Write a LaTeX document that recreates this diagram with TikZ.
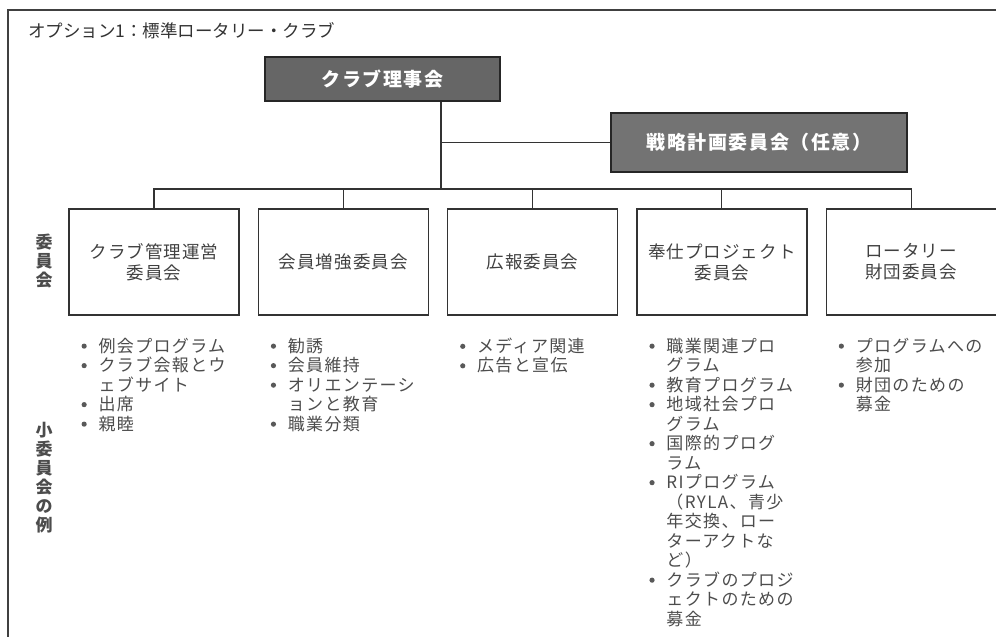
\documentclass[tikz,border=0pt]{standalone}
\usepackage{fontspec}
\setmainfont{Noto Sans CJK JP}
\usetikzlibrary{positioning}

\tikzset{
  frame/.style={draw=black!75, line width=1.5pt},
  conn/.style={draw=black!80, line width=1.1pt},
  board/.style={draw=black!85, line width=1.3pt, fill=black!60, text=white, inner sep=0,
    font=\fontsize{19}{22}\selectfont\bfseries\addfontfeatures{LetterSpace=8}},
  cttee/.style={draw=black!80, line width=1.3pt, minimum width=170, minimum height=106,
    align=center, inner sep=0, text=black!75,
    font=\fontsize{17.5}{21}\selectfont\addfontfeatures{LetterSpace=6}},
  sublist/.style={align=left, inner sep=0, text=black!70,
    font=\fontsize{17}{19.5}\selectfont\addfontfeatures{LetterSpace=8}},
  vlabel/.style={align=center, inner sep=0, font=\fontsize{17}{19}\selectfont\bfseries, text=black!70},
}
\newcommand{\itm}{\makebox[18pt][l]{\hspace*{1pt}\tikz[baseline=-6pt]\fill[black!65] (0,0) circle (2.6pt);}}
\newcommand{\cnt}{\hspace*{18pt}}

\begin{document}
\begin{tikzpicture}[x=1pt,y=-1pt]
  \useasboundingbox (0,0) rectangle (996,637);
  \draw[frame] (996,10) -- (8,10) -- (8,637);

  \node[anchor=west, inner sep=0, text=black!80, font=\fontsize{17.5}{20}\selectfont] (title) at (28,31)
    {オプション1：標準ロータリー・クラブ};

  % top of the chart
  \node[board, minimum width=235, minimum height=44] (board) at (382.5,79) {クラブ理事会};
  \node[board, fill=black!55, minimum width=296, minimum height=59] (strat) at (759,142.5)
    {戦略計画委員会（任意）};

  % committees
  \node[cttee] (c1) at (154,262) {クラブ管理運営\\委員会};
  \node[cttee, right=18pt of c1] (c2) {会員増強委員会};
  \node[cttee, right=18pt of c2] (c3) {広報委員会};
  \node[cttee, right=18pt of c3] (c4) {奉仕プロジェクト\\委員会};
  \node[cttee, right=18pt of c4] (c5) {ロータリー\\財団委員会};

  % connectors
  \coordinate (trunk) at (441,189);
  \draw[conn] (trunk |- board.south) -- (trunk);
  \draw[conn] (trunk |- strat.west) -- (strat.west);
  \draw[conn] (c1.north) |- (trunk) -| (c5.north);
  \foreach \c in {c2,c3,c4}
    \draw[conn] (\c.north) -- (\c.north |- trunk);

  % side labels
  \node[vlabel] (lcttee) at (44,261) {委\\員\\会};
  \node[vlabel] (lsub) at (44,478) {小\\委\\員\\会\\の\\例};

  % subcommittees
  \node[sublist, below right=22pt and 12pt of c1.south west] (s1)
    {\itm 例会プログラム\\ \itm クラブ会報とウ\\ \cnt ェブサイト\\ \itm 出席\\ \itm 親睦};
  \node[sublist, below right=22pt and 12pt of c2.south west] (s2)
    {\itm 勧誘\\ \itm 会員維持\\ \itm オリエンテーシ\\ \cnt ョンと教育\\ \itm 職業分類};
  \node[sublist, below right=22pt and 12pt of c3.south west] (s3)
    {\itm メディア関連\\ \itm 広告と宣伝};
  \node[sublist, below right=22pt and 12pt of c4.south west] (s4)
    {\itm 職業関連プロ\\ \cnt グラム\\ \itm 教育プログラム\\ \itm 地域社会プロ\\ \cnt グラム\\
     \itm 国際的プログ\\ \cnt ラム\\ \itm RIプログラム\\ \cnt （RYLA、青少\\ \cnt 年交換、ロー\\
     \cnt ターアクトな\\ \cnt ど）\\ \itm クラブのプロジ\\ \cnt ェクトのための\\ \cnt 募金};
  \node[sublist, below right=22pt and 12pt of c5.south west] (s5)
    {\itm プログラムへの\\ \cnt 参加\\ \itm 財団のための\\ \cnt 募金};
\end{tikzpicture}
\end{document}
